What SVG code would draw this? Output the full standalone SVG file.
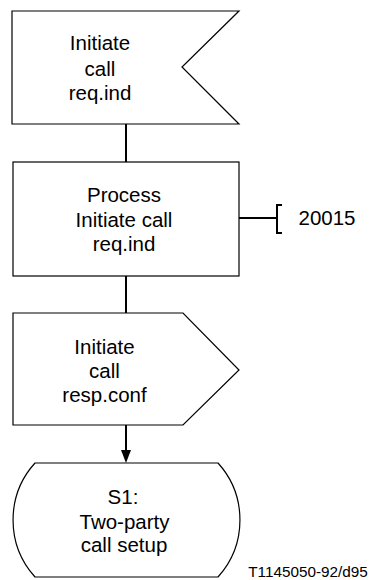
<svg xmlns="http://www.w3.org/2000/svg" width="372" height="580" viewBox="0 0 372 580">
<style>
.shape{fill:#fff;stroke:#000;stroke-width:1.2}
.t{font-family:"Liberation Sans",Arial,sans-serif;font-size:20.5px;fill:#000;text-anchor:middle}
.conn{stroke:#000;stroke-width:2;fill:none}
</style>
<defs>
<marker id="ah" markerWidth="10" markerHeight="13" refX="5" refY="13" orient="auto-start-reverse" markerUnits="userSpaceOnUse" viewBox="0 0 10 13">
<path d="M0,0 L10,0 L5,13 Z" fill="#000"/>
</marker>
</defs>
<rect width="372" height="580" fill="#fff"/>
<g id="connectors">
<line class="conn" x1="126" y1="124" x2="126" y2="162"/>
<line class="conn" x1="126" y1="276" x2="126" y2="313"/>
<line class="conn" x1="126" y1="425" x2="126" y2="450"/>
<path d="M121,450 L131,450 L126,463 Z" fill="#000"/>
<line class="conn" x1="239" y1="218" x2="277" y2="218"/>
<path class="conn" d="M282,205 L277,205 L277,233 L282,233"/>
</g>
<g id="n1">
<path class="shape" d="M12,11 L239,11 L182,67 L239,124 L12,124 Z"/>
<text class="t" x="100" y="50">Initiate</text>
<text class="t" x="100" y="75.5">call</text>
<text class="t" x="100" y="100">req.ind</text>
</g>
<g id="n2">
<rect class="shape" x="13" y="162" width="226" height="114"/>
<text class="t" x="124" y="201.5">Process</text>
<text class="t" x="124" y="226.5">Initiate call</text>
<text class="t" x="124" y="250.5">req.ind</text>
</g>
<g id="comment">
<text class="t" x="327" y="224.5">20015</text>
</g>
<g id="n3">
<path class="shape" d="M13,313 L183,313 L239,370 L183,425 L13,425 Z"/>
<text class="t" x="104.5" y="353.5">Initiate</text>
<text class="t" x="104.5" y="378">call</text>
<text class="t" x="104.5" y="401.5">resp.conf</text>
</g>
<g id="n4">
<path class="shape" d="M35,463 L218,463 A85,85 0 0 1 218,577 L35,577 A85,85 0 0 1 35,463 Z"/>
<text class="t" x="123" y="503.5">S1:</text>
<text class="t" x="124.5" y="528.5">Two-party</text>
<text class="t" x="124" y="552">call setup</text>
</g>
<text x="308" y="576.5" style="font-family:'Liberation Sans',Arial,sans-serif;font-size:15.3px;text-anchor:middle">T1145050-92/d95</text>
</svg>
